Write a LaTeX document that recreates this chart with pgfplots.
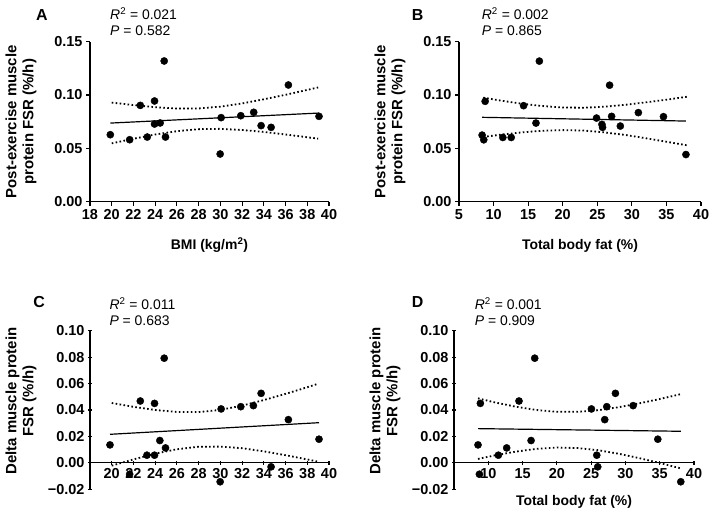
\documentclass[border=0pt]{standalone}
\usepackage{pgfplots}
\pgfplotsset{compat=1.18}
\usepackage{fontspec}
\setmainfont{Liberation Sans}
\begin{document}
\begin{tikzpicture}[x=1bp,y=1bp]
\useasboundingbox (0,0) rectangle (709,514);
\pgfplotsset{
  myax/.style={scale only axis, axis line style={-, line width=1.1pt, black},
    tick style={line width=1.1pt, black}, major tick length=4bp, tick align=outside,
    ticklabel style={font=\fontsize{14.5}{16}\selectfont\bfseries},
    /pgf/number format/assume math mode=true,
    xlabel style={font=\fontsize{14}{16}\selectfont\bfseries},
    ylabel style={font=\fontsize{15}{17}\selectfont\bfseries, align=center},
    clip=false},
  pts/.style={only marks, mark=*, mark size=3.6, black},
  fitl/.style={black, line width=1.2pt, no marks},
  ci/.style={black, line width=1.8pt, dash pattern=on 1.6pt off 2.4pt, no marks},
}
% ---------------- A ----------------
\begin{axis}[myax, at={(90bp,312.3bp)}, anchor=south west, width=239bp, height=160bp,
  xmin=18, xmax=40, ymin=0, ymax=0.15,
  axis x line*=bottom, axis y line*=left,
  xtick={18,20,...,40}, ytick={0,0.05,0.1,0.15}, yticklabels={0.00,0.05,0.10,0.15},
  xlabel={BMI (kg/m\textsuperscript{2})},
  xlabel style={at={([yshift=-48bp]axis description cs:0.5,0)}, anchor=base},
  ylabel={Post-exercise muscle\\protein FSR (\%/h)},
  ylabel style={at={([xshift=-50bp]axis description cs:0,0.5)}, anchor=south}]
\addplot[pts] coordinates {(19.87,0.0628) (21.65,0.0581) (22.63,0.0903) (23.27,0.0606) (23.94,0.0944) (23.94,0.0728) (24.46,0.0738) (24.83,0.1319) (24.95,0.0606) (29.98,0.0447) (30.07,0.0788) (31.88,0.0806) (33.07,0.0838) (33.75,0.0713) (34.67,0.0697) (36.26,0.1094) (39.08,0.0800)};
\addplot[fitl] coordinates {(19.87,0.0737) (39.08,0.0831)};
\addplot[ci] coordinates {(20,0.0929) (22,0.0906) (24,0.0886) (26,0.0873) (28,0.0874) (30,0.0891) (32,0.0921) (34,0.0960) (36,0.1002) (38,0.1048) (39,0.1071)};
\addplot[ci] coordinates {(20,0.0547) (22,0.0590) (24,0.0630) (26,0.0661) (28,0.0680) (30,0.0683) (32,0.0672) (34,0.0654) (36,0.0630) (38,0.0604) (39,0.0591)};
\end{axis}
% ---------------- B ----------------
\begin{axis}[myax, at={(459bp,312.3bp)}, anchor=south west, width=242bp, height=160bp,
  xmin=5, xmax=40, ymin=0, ymax=0.15,
  axis x line*=bottom, axis y line*=left,
  xtick={5,10,...,40}, ytick={0,0.05,0.1,0.15}, yticklabels={0.00,0.05,0.10,0.15},
  xlabel={Total body fat (\%)},
  xlabel style={at={([yshift=-48bp]axis description cs:0.5,0)}, anchor=base},
  ylabel={Post-exercise muscle\\protein FSR (\%/h)},
  ylabel style={at={([xshift=-50bp]axis description cs:0,0.5)}, anchor=south}]
\addplot[pts] coordinates {(8.34,0.0624) (8.58,0.0580) (8.78,0.0941) (11.34,0.0602) (12.55,0.0602) (14.34,0.0900) (16.13,0.0737) (16.62,0.1318) (24.89,0.0784) (25.67,0.0725) (25.76,0.0697) (26.78,0.1092) (27.07,0.0800) (28.33,0.0709) (30.94,0.0835) (34.57,0.0797) (37.82,0.0442)};
\addplot[fitl] coordinates {(8.34,0.0791) (37.82,0.0756)};
\addplot[ci] coordinates {(8.5,0.0975) (11,0.0948) (14,0.0919) (17,0.0897) (20,0.0883) (23,0.0881) (26,0.0890) (29,0.0908) (32,0.0931) (35,0.0956) (38,0.0984)};
\addplot[ci] coordinates {(8.5,0.0607) (11,0.0628) (14,0.0649) (17,0.0665) (20,0.0671) (23,0.0667) (26,0.0650) (29,0.0626) (32,0.0595) (35,0.0562) (38,0.0528)};
\end{axis}
% ---------------- C ----------------
\begin{axis}[myax, at={(90bp,24.7bp)}, anchor=south west, width=239bp, height=158.6bp,
  xmin=18, xmax=40, ymin=-0.02, ymax=0.10,
  axis x line=middle, axis y line=left, axis line style={-},
  xtick={20,22,...,40}, ytick={-0.02,0,0.02,0.04,0.06,0.08,0.1},
  yticklabels={−0.02,0.00,0.02,0.04,0.06,0.08,0.10},
  ylabel={Delta muscle protein\\FSR (\%/h)},
  ylabel style={at={([xshift=-50bp]axis description cs:0,0.557)}, anchor=south}]
\addplot[pts] coordinates {(19.84,0.0136) (21.65,-0.0086) (22.63,0.0468) (23.24,0.0058) (23.94,0.0058) (23.94,0.0450) (24.43,0.0169) (24.83,0.0792) (24.95,0.0113) (29.98,-0.0143) (30.07,0.0408) (31.88,0.0425) (33.04,0.0433) (33.75,0.0526) (34.67,-0.0030) (36.26,0.0327) (39.08,0.0179)};
\addplot[fitl] coordinates {(19.84,0.0216) (39.08,0.0304)};
\addplot[ci] coordinates {(20,0.0453) (22,0.0424) (24,0.0400) (26,0.0385) (28,0.0384) (30,0.0401) (32,0.0433) (34,0.0475) (36,0.0522) (38,0.0572) (39,0.0599)};
\addplot[ci] coordinates {(20,-0.0021) (22,0.0026) (24,0.0070) (26,0.0103) (28,0.0122) (30,0.0123) (32,0.0111) (34,0.0087) (36,0.0058) (38,0.0026) (39,0.0009)};
\end{axis}
% ---------------- D ----------------
\begin{axis}[myax, at={(454bp,24.7bp)}, anchor=south west, width=240bp, height=158.6bp,
  xmin=5, xmax=40, ymin=-0.02, ymax=0.10,
  axis x line=middle, axis y line=left, axis line style={-},
  xtick={10,15,...,40}, ytick={-0.02,0,0.02,0.04,0.06,0.08,0.1},
  yticklabels={−0.02,0.00,0.02,0.04,0.06,0.08,0.10},
  xlabel={Total body fat (\%)},
  xlabel style={at={([yshift=-16bp]axis description cs:0.5,0)}, anchor=base, font=\fontsize{14}{16}\selectfont\bfseries},
  ylabel={Delta muscle protein\\FSR (\%/h)},
  ylabel style={at={([xshift=-50bp]axis description cs:0,0.557)}, anchor=south}]
\addplot[pts] coordinates {(8.50,0.0136) (8.70,-0.0086) (8.84,0.0450) (11.47,0.0058) (12.68,0.0113) (14.48,0.0468) (16.24,0.0169) (16.77,0.0792) (25.04,0.0408) (25.82,0.0058) (25.96,-0.0030) (26.98,0.0327) (27.28,0.0425) (28.54,0.0526) (31.12,0.0433) (34.72,0.0179) (38.07,-0.0143)};
\addplot[fitl] coordinates {(8.5,0.0259) (38.07,0.0239)};
\addplot[ci] coordinates {(8.5,0.0488) (11,0.0457) (14,0.0425) (17,0.0400) (20,0.0386) (23,0.0386) (26,0.0398) (29,0.0421) (32,0.0450) (35,0.0483) (38,0.0519)};
\addplot[ci] coordinates {(8.5,0.0030) (11,0.0057) (14,0.0085) (17,0.0106) (20,0.0116) (23,0.0112) (26,0.0096) (29,0.0069) (32,0.0036) (35,-0.0001) (38,-0.0041)};
\end{axis}
% ---------------- annotations ----------------
\begin{scope}[every node/.style={inner sep=0pt, font=\fontsize{14}{16}\selectfont}]
\node[anchor=base west, font=\fontsize{16}{18}\selectfont\bfseries] at (36,493.3) {A};
\node[anchor=base west, font=\fontsize{16}{18}\selectfont\bfseries] at (411.7,493.3) {B};
\node[anchor=base west, font=\fontsize{16}{18}\selectfont\bfseries] at (33.3,206.7) {C};
\node[anchor=base west, font=\fontsize{16}{18}\selectfont\bfseries] at (411.7,206) {D};
\node[anchor=base west] at (110,494) {\textit{R}\textsuperscript{2} = 0.021};
\node[anchor=base west] at (110,478.3) {\textit{P} = 0.582};
\node[anchor=base west] at (481.7,494) {\textit{R}\textsuperscript{2} = 0.002};
\node[anchor=base west] at (481.7,478.3) {\textit{P} = 0.865};
\node[anchor=base west] at (109.3,204.7) {\textit{R}\textsuperscript{2} = 0.011};
\node[anchor=base west] at (109.3,188.3) {\textit{P} = 0.683};
\node[anchor=base west] at (474.7,204.7) {\textit{R}\textsuperscript{2} = 0.001};
\node[anchor=base west] at (474.7,188.3) {\textit{P} = 0.909};
\end{scope}
\end{tikzpicture}
\end{document}
